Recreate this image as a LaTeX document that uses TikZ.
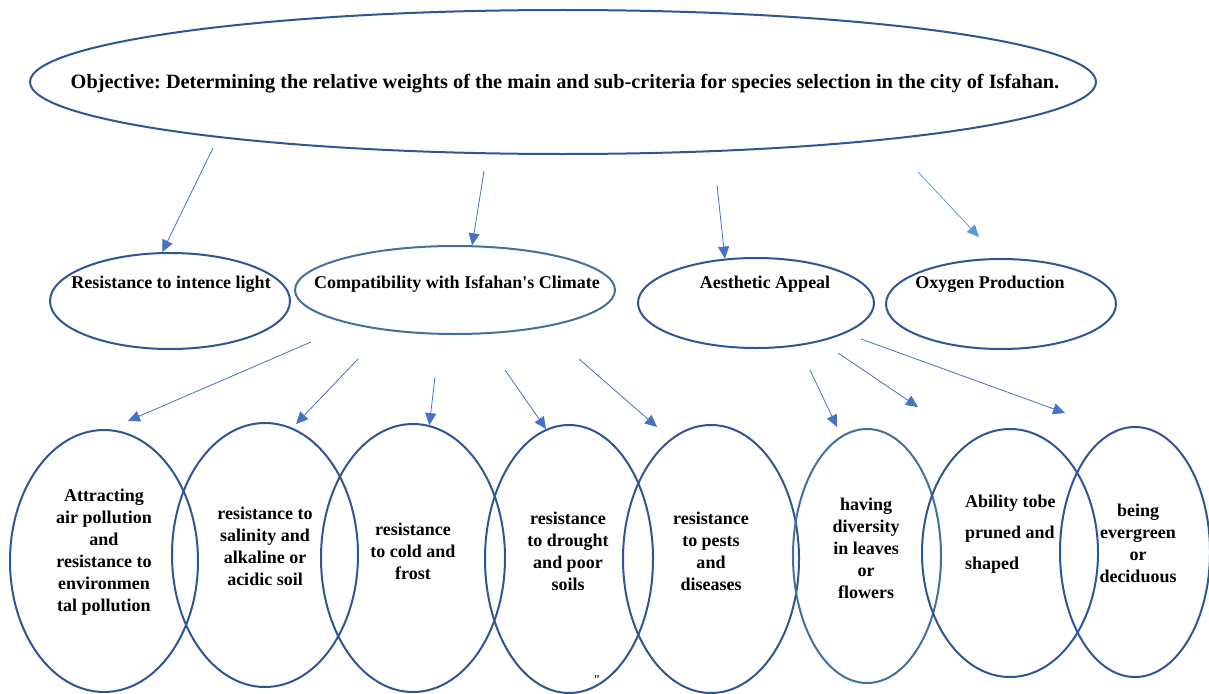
\documentclass[tikz,border=0pt]{standalone}
\usepackage{fontspec}
\setmainfont{Liberation Serif}[Ligatures=TeXOff]
\frenchspacing
\usetikzlibrary{shapes}
\usetikzlibrary{arrows.meta}
\definecolor{darkb}{HTML}{2F5597}
\definecolor{steelb}{HTML}{41719C}
\definecolor{arrowb}{HTML}{4472C4}
\definecolor{lightb}{HTML}{5B9BD5}
\tikzset{
    myellipse/.style = {ellipse, line width=2pt, draw=darkb, inner sep=0pt},
    myellipsel/.style = {ellipse, line width=2pt, draw=steelb, inner sep=0pt},
    mytext/.style = {align=center, inner sep=0pt, font=\fontsize{18}{22}\selectfont\bfseries},
    edgeb/.style = {-{Triangle[length=12pt,width=11pt]}, line width=0.8pt, arrowb},
    edgel/.style = {-{Triangle[length=12pt,width=11pt]}, line width=0.8pt, lightb}, % oxygen
}

\begin{document}
\begin{tikzpicture}[x=1pt,y=-1pt]
  \useasboundingbox (0,0) rectangle (1209,693);

  % objective
  \node[myellipse, minimum width=1066pt, minimum height=144pt] (goal) at (563,82) {};
  \node[mytext, font=\fontsize{20.3}{24}\selectfont\bfseries] (goaltxt) at (565,84) {Objective: Determining the relative weights of the main and sub-criteria for species selection in the city of Isfahan.};

  % main criteria
  \node[myellipse, minimum width=240pt, minimum height=96pt] (light) at (170,301) {};
  \node[myellipsel, minimum width=320pt, minimum height=88pt] (climate) at (455,290) {};
  \node[myellipse, minimum width=236pt, minimum height=90pt] (appeal) at (756,303) {};
  \node[myellipse, minimum width=230pt, minimum height=90pt] (oxygen) at (1001,304) {};

  \node[mytext] (lighttxt) at (171,284) {Resistance to intence light};
  \node[mytext] (climatetxt) at (457,284) {Compatibility with Isfahan's Climate};
  \node[mytext] (appealtxt) at (765,284) {Aesthetic Appeal};
  \node[mytext] (oxygentxt) at (990,284) {Oxygen Production};

  % sub-criteria
  \node[myellipse, minimum width=188pt, minimum height=262pt] (pollution) at (104,561) {};
  \node[myellipse, minimum width=186pt, minimum height=264pt] (salinity) at (265,555) {};
  \node[myellipse, minimum width=184pt, minimum height=268pt] (cold) at (413,558) {};
  \node[myellipse, minimum width=168pt, minimum height=268pt] (drought) at (569,559) {};
  \node[myellipse, minimum width=176pt, minimum height=268pt] (pests) at (711,559) {};
  \node[myellipsel, minimum width=148pt, minimum height=254pt] (diversity) at (867,556) {};
  \node[myellipse, minimum width=176pt, minimum height=248pt] (pruned) at (1010,553) {};
  \node[myellipse, minimum width=150pt, minimum height=250pt] (evergreen) at (1135,552) {};

  \node[mytext] (pollutiontxt) at (104,552) {Attracting\\air pollution\\and\\resistance to\\environmen\\tal pollution};
  \node[mytext] (salinitytxt) at (265,546) {resistance to\\salinity and\\alkaline or\\acidic soil};
  \node[mytext] (coldtxt) at (413,551) {resistance\\to cold and\\frost};
  \node[mytext] (droughttxt) at (568,551) {resistance\\to drought\\and poor\\soils};
  \node[mytext] (peststxt) at (711,551) {resistance\\to pests\\and\\diseases};
  \node[mytext] (diversitytxt) at (866,548) {having\\diversity\\in leaves\\or\\flowers};
  \node[mytext, align=left, font=\fontsize{18}{31}\selectfont\bfseries, anchor=west] (prunedtxt) at (965,534) {Ability tobe\\pruned and\\shaped};
  \node[mytext] (evergreentxt) at (1138,543) {being\\evergreen\\or\\deciduous};
  \node[inner sep=0pt, font=\fontsize{12}{14}\selectfont\bfseries] (mark) at (597,680) {"};

  % arrow ends
  \coordinate (a1) at (213,148);
  \coordinate (a2) at (484,171);
  \coordinate (a3) at (717,185);
  \coordinate (a4) at (918,172);
  \coordinate (a4e) at (979,237);
  \coordinate (b1) at (311,342);
  \coordinate (b1e) at (128,421);
  \coordinate (b2) at (358,359);
  \coordinate (b2e) at (296,424);
  \coordinate (b3) at (435,377);
  \coordinate (b4) at (505,370);
  \coordinate (b5) at (579,359);
  \coordinate (b5e) at (657,427);
  \coordinate (c1) at (810,370);
  \coordinate (c1e) at (837,427);
  \coordinate (c2) at (838,353);
  \coordinate (c2e) at (918,407);
  \coordinate (c3) at (861,339);
  \coordinate (c3e) at (1065,413);

  \draw[edgeb] (a1) -- (light.99);
  \draw[edgeb] (a2) -- (climate.69);
  \draw[edgeb] (a3) -- (appeal.125);
  \draw[edgel] (a4) -- (a4e);
  \draw[edgeb] (b1) -- (b1e);
  \draw[edgeb] (b2) -- (b2e);
  \draw[edgeb] (b3) -- (cold.83.5);
  \draw[edgeb] (b4) -- (drought.100.6);
  \draw[edgeb] (b5) -- (b5e);
  \draw[edgeb] (c1) -- (c1e);
  \draw[edgeb] (c2) -- (c2e);
  \draw[edgeb] (c3) -- (c3e);

\end{tikzpicture}
\end{document}
